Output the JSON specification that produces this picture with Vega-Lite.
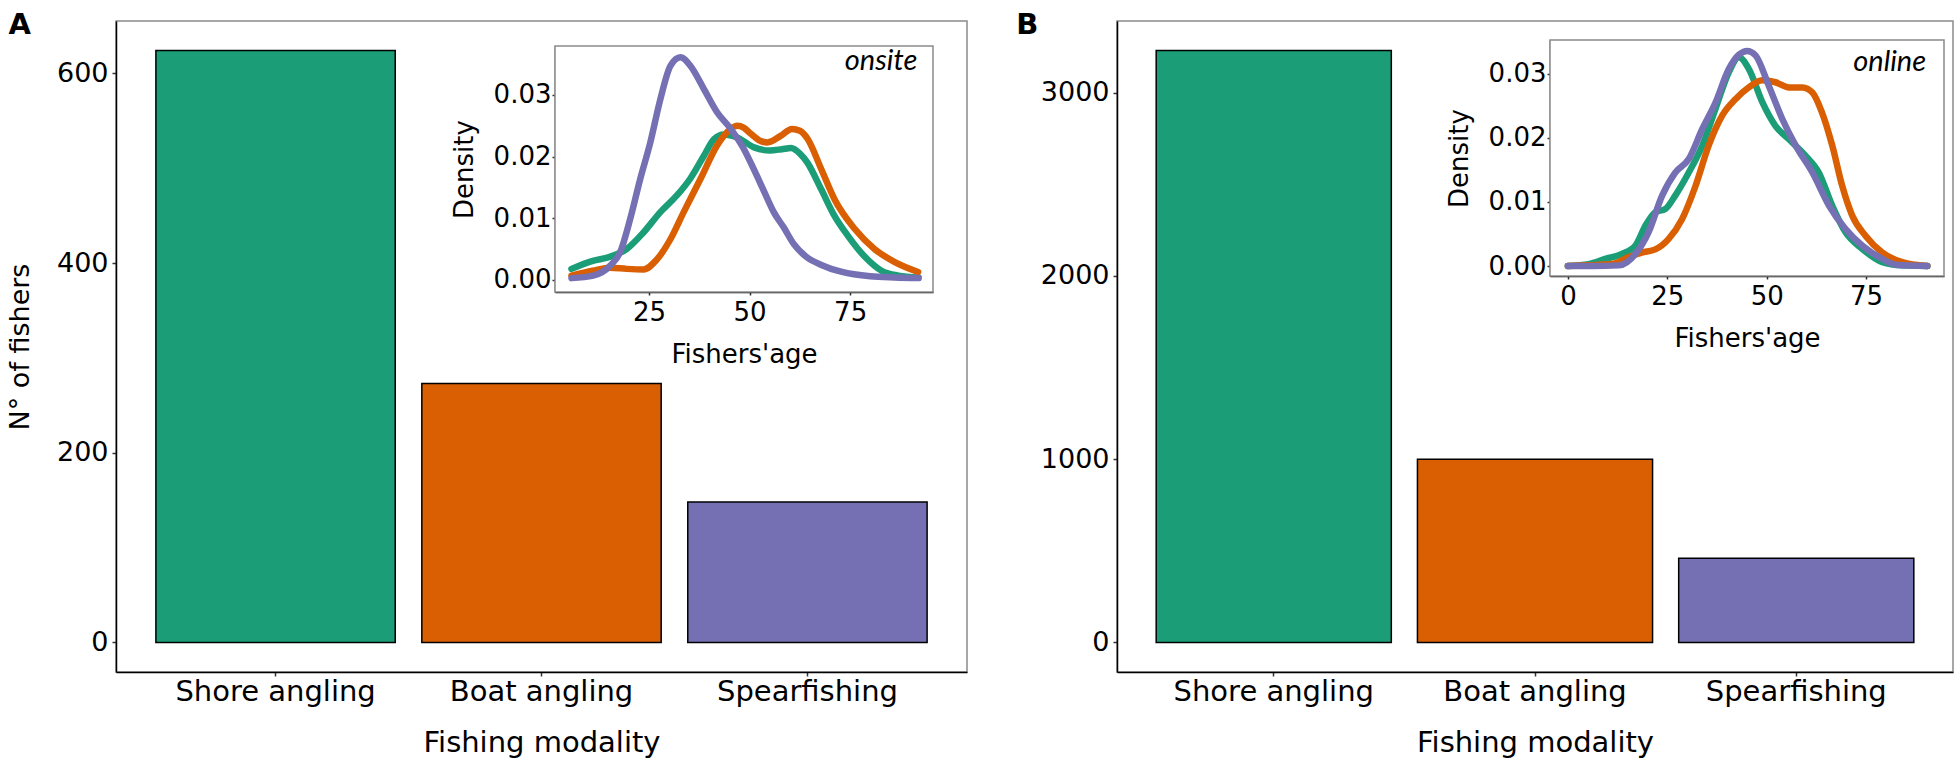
{
  "$schema": "https://vega.github.io/schema/vega-lite/v6.json",
  "background": "white",
  "padding": {"left": 5, "top": 10, "right": 0, "bottom": 0},
  "spacing": 47,
  "config": {
    "font": "DejaVu Sans",
    "view": {"stroke": "#8a8a8a", "strokeWidth": 1.5},
    "axis": {
      "grid": false,
      "domainColor": "black",
      "domainWidth": 1.5,
      "tickColor": "#333333",
      "tickWidth": 1.5,
      "labelColor": "black",
      "titleColor": "black",
      "titleFontWeight": "normal",
      "labelFont": "DejaVu Sans",
      "titleFont": "DejaVu Sans",
      "labelLimit": 0,
      "zindex": 1
    },
    "title": {"font": "DejaVu Sans", "fontWeight": "bold", "fontSize": 29, "color": "black", "anchor": "start", "frame": "bounds", "baseline": "alphabetic", "offset": 0}
  },
  "datasets": {
    "bars": [
      {"panel": "A", "modality": "Shore angling", "n": 624},
      {"panel": "A", "modality": "Boat angling", "n": 273},
      {"panel": "A", "modality": "Spearfishing", "n": 148},
      {"panel": "B", "modality": "Shore angling", "n": 3230},
      {"panel": "B", "modality": "Boat angling", "n": 1000},
      {"panel": "B", "modality": "Spearfishing", "n": 460}
    ],
    "frames": [
      {"panel": "A", "age": 1.6, "age2": 95.6, "density": -0.00195, "density2": 0.03794},
      {"panel": "B", "age": -4.5, "age2": 94.6, "density": -0.00156, "density2": 0.0353}
    ],
    "tags": [
      {"panel": "A", "age": 91.7, "density": 0.0341, "label": "onsite"},
      {"panel": "B", "age": 90.1, "density": 0.0304, "label": "online"}
    ],
    "dens": [
      {"panel": "A", "modality": "Shore angling", "age": 5.7, "density": 0.0018},
      {"panel": "A", "modality": "Shore angling", "age": 11, "density": 0.0031},
      {"panel": "A", "modality": "Shore angling", "age": 15, "density": 0.0037},
      {"panel": "A", "modality": "Shore angling", "age": 19.4, "density": 0.005},
      {"panel": "A", "modality": "Shore angling", "age": 23.6, "density": 0.0077},
      {"panel": "A", "modality": "Shore angling", "age": 27.8, "density": 0.011},
      {"panel": "A", "modality": "Shore angling", "age": 31.9, "density": 0.0137},
      {"panel": "A", "modality": "Shore angling", "age": 35.3, "density": 0.0165},
      {"panel": "A", "modality": "Shore angling", "age": 38.6, "density": 0.0201},
      {"panel": "A", "modality": "Shore angling", "age": 41.1, "density": 0.0228},
      {"panel": "A", "modality": "Shore angling", "age": 43.6, "density": 0.0236},
      {"panel": "A", "modality": "Shore angling", "age": 46.9, "density": 0.0231},
      {"panel": "A", "modality": "Shore angling", "age": 51.1, "density": 0.0215},
      {"panel": "A", "modality": "Shore angling", "age": 55, "density": 0.021},
      {"panel": "A", "modality": "Shore angling", "age": 58, "density": 0.0212},
      {"panel": "A", "modality": "Shore angling", "age": 60.3, "density": 0.0214},
      {"panel": "A", "modality": "Shore angling", "age": 62.5, "density": 0.0205},
      {"panel": "A", "modality": "Shore angling", "age": 64.4, "density": 0.019},
      {"panel": "A", "modality": "Shore angling", "age": 67.8, "density": 0.0147},
      {"panel": "A", "modality": "Shore angling", "age": 71.1, "density": 0.0104},
      {"panel": "A", "modality": "Shore angling", "age": 74.4, "density": 0.0072},
      {"panel": "A", "modality": "Shore angling", "age": 78.6, "density": 0.0038},
      {"panel": "A", "modality": "Shore angling", "age": 82.8, "density": 0.0015},
      {"panel": "A", "modality": "Shore angling", "age": 87, "density": 0.0007},
      {"panel": "A", "modality": "Shore angling", "age": 92, "density": 0.0004},
      {"panel": "A", "modality": "Boat angling", "age": 5.7, "density": 0.0007},
      {"panel": "A", "modality": "Boat angling", "age": 11, "density": 0.0015},
      {"panel": "A", "modality": "Boat angling", "age": 15.3, "density": 0.002},
      {"panel": "A", "modality": "Boat angling", "age": 19.4, "density": 0.0018},
      {"panel": "A", "modality": "Boat angling", "age": 23.6, "density": 0.0017},
      {"panel": "A", "modality": "Boat angling", "age": 26.9, "density": 0.0033},
      {"panel": "A", "modality": "Boat angling", "age": 30.3, "density": 0.0066},
      {"panel": "A", "modality": "Boat angling", "age": 33.6, "density": 0.011},
      {"panel": "A", "modality": "Boat angling", "age": 37.8, "density": 0.0164},
      {"panel": "A", "modality": "Boat angling", "age": 41.9, "density": 0.0218},
      {"panel": "A", "modality": "Boat angling", "age": 45.3, "density": 0.0245},
      {"panel": "A", "modality": "Boat angling", "age": 46.9, "density": 0.025},
      {"panel": "A", "modality": "Boat angling", "age": 48.5, "density": 0.0247},
      {"panel": "A", "modality": "Boat angling", "age": 50.3, "density": 0.0237},
      {"panel": "A", "modality": "Boat angling", "age": 52.5, "density": 0.0226},
      {"panel": "A", "modality": "Boat angling", "age": 54.4, "density": 0.0223},
      {"panel": "A", "modality": "Boat angling", "age": 57.8, "density": 0.0234},
      {"panel": "A", "modality": "Boat angling", "age": 60.5, "density": 0.0245},
      {"panel": "A", "modality": "Boat angling", "age": 62.5, "density": 0.0242},
      {"panel": "A", "modality": "Boat angling", "age": 64.4, "density": 0.0229},
      {"panel": "A", "modality": "Boat angling", "age": 67.8, "density": 0.018},
      {"panel": "A", "modality": "Boat angling", "age": 71.1, "density": 0.0131},
      {"panel": "A", "modality": "Boat angling", "age": 76.1, "density": 0.0083},
      {"panel": "A", "modality": "Boat angling", "age": 81.1, "density": 0.005},
      {"panel": "A", "modality": "Boat angling", "age": 86.1, "density": 0.0029},
      {"panel": "A", "modality": "Boat angling", "age": 91.9, "density": 0.0013},
      {"panel": "A", "modality": "Spearfishing", "age": 5.7, "density": 0.0003},
      {"panel": "A", "modality": "Spearfishing", "age": 11.1, "density": 0.0007},
      {"panel": "A", "modality": "Spearfishing", "age": 15.3, "density": 0.0023},
      {"panel": "A", "modality": "Spearfishing", "age": 17.8, "density": 0.0045},
      {"panel": "A", "modality": "Spearfishing", "age": 20.3, "density": 0.0099},
      {"panel": "A", "modality": "Spearfishing", "age": 22.8, "density": 0.0164},
      {"panel": "A", "modality": "Spearfishing", "age": 25.3, "density": 0.0223},
      {"panel": "A", "modality": "Spearfishing", "age": 27.8, "density": 0.0293},
      {"panel": "A", "modality": "Spearfishing", "age": 30.3, "density": 0.0347},
      {"panel": "A", "modality": "Spearfishing", "age": 32.8, "density": 0.0361},
      {"panel": "A", "modality": "Spearfishing", "age": 35.3, "density": 0.0347},
      {"panel": "A", "modality": "Spearfishing", "age": 38.6, "density": 0.031},
      {"panel": "A", "modality": "Spearfishing", "age": 41.9, "density": 0.0272},
      {"panel": "A", "modality": "Spearfishing", "age": 45.3, "density": 0.0245},
      {"panel": "A", "modality": "Spearfishing", "age": 48.6, "density": 0.0212},
      {"panel": "A", "modality": "Spearfishing", "age": 51, "density": 0.018},
      {"panel": "A", "modality": "Spearfishing", "age": 53.5, "density": 0.0145},
      {"panel": "A", "modality": "Spearfishing", "age": 56, "density": 0.011},
      {"panel": "A", "modality": "Spearfishing", "age": 58.5, "density": 0.0085},
      {"panel": "A", "modality": "Spearfishing", "age": 61, "density": 0.0058},
      {"panel": "A", "modality": "Spearfishing", "age": 64, "density": 0.0038},
      {"panel": "A", "modality": "Spearfishing", "age": 68, "density": 0.0024},
      {"panel": "A", "modality": "Spearfishing", "age": 73, "density": 0.0013},
      {"panel": "A", "modality": "Spearfishing", "age": 80, "density": 0.0006},
      {"panel": "A", "modality": "Spearfishing", "age": 86, "density": 0.0004},
      {"panel": "A", "modality": "Spearfishing", "age": 92, "density": 0.0003},
      {"panel": "B", "modality": "Shore angling", "age": 0, "density": 0},
      {"panel": "B", "modality": "Shore angling", "age": 5.2, "density": 0.0003},
      {"panel": "B", "modality": "Shore angling", "age": 9.4, "density": 0.0011},
      {"panel": "B", "modality": "Shore angling", "age": 13.6, "density": 0.0019},
      {"panel": "B", "modality": "Shore angling", "age": 17, "density": 0.0032},
      {"panel": "B", "modality": "Shore angling", "age": 19.5, "density": 0.0063},
      {"panel": "B", "modality": "Shore angling", "age": 22, "density": 0.0084},
      {"panel": "B", "modality": "Shore angling", "age": 24.5, "density": 0.0089},
      {"panel": "B", "modality": "Shore angling", "age": 27, "density": 0.011},
      {"panel": "B", "modality": "Shore angling", "age": 30.4, "density": 0.0146},
      {"panel": "B", "modality": "Shore angling", "age": 33.8, "density": 0.0188},
      {"panel": "B", "modality": "Shore angling", "age": 37.1, "density": 0.0245},
      {"panel": "B", "modality": "Shore angling", "age": 40.5, "density": 0.0303},
      {"panel": "B", "modality": "Shore angling", "age": 43, "density": 0.0326},
      {"panel": "B", "modality": "Shore angling", "age": 45.5, "density": 0.0308},
      {"panel": "B", "modality": "Shore angling", "age": 48.9, "density": 0.0256},
      {"panel": "B", "modality": "Shore angling", "age": 52.2, "density": 0.0219},
      {"panel": "B", "modality": "Shore angling", "age": 55.6, "density": 0.0198},
      {"panel": "B", "modality": "Shore angling", "age": 59.8, "density": 0.0172},
      {"panel": "B", "modality": "Shore angling", "age": 63.1, "density": 0.0146},
      {"panel": "B", "modality": "Shore angling", "age": 66.5, "density": 0.0094},
      {"panel": "B", "modality": "Shore angling", "age": 69.8, "density": 0.0053},
      {"panel": "B", "modality": "Shore angling", "age": 74, "density": 0.0027},
      {"panel": "B", "modality": "Shore angling", "age": 79.1, "density": 0.0006},
      {"panel": "B", "modality": "Shore angling", "age": 84, "density": 0.0001},
      {"panel": "B", "modality": "Shore angling", "age": 90.4, "density": 0},
      {"panel": "B", "modality": "Boat angling", "age": 0, "density": 0},
      {"panel": "B", "modality": "Boat angling", "age": 5, "density": 0.0001},
      {"panel": "B", "modality": "Boat angling", "age": 11.1, "density": 0.0003},
      {"panel": "B", "modality": "Boat angling", "age": 15.3, "density": 0.0014},
      {"panel": "B", "modality": "Boat angling", "age": 18.6, "density": 0.0021},
      {"panel": "B", "modality": "Boat angling", "age": 22, "density": 0.0026},
      {"panel": "B", "modality": "Boat angling", "age": 25.3, "density": 0.0042},
      {"panel": "B", "modality": "Boat angling", "age": 28.7, "density": 0.0073},
      {"panel": "B", "modality": "Boat angling", "age": 32.1, "density": 0.0125},
      {"panel": "B", "modality": "Boat angling", "age": 35.4, "density": 0.0188},
      {"panel": "B", "modality": "Boat angling", "age": 38.8, "density": 0.0235},
      {"panel": "B", "modality": "Boat angling", "age": 42.2, "density": 0.0261},
      {"panel": "B", "modality": "Boat angling", "age": 45.5, "density": 0.0279},
      {"panel": "B", "modality": "Boat angling", "age": 48.9, "density": 0.029},
      {"panel": "B", "modality": "Boat angling", "age": 52.2, "density": 0.0287},
      {"panel": "B", "modality": "Boat angling", "age": 55.6, "density": 0.0279},
      {"panel": "B", "modality": "Boat angling", "age": 59, "density": 0.0279},
      {"panel": "B", "modality": "Boat angling", "age": 61.5, "density": 0.0271},
      {"panel": "B", "modality": "Boat angling", "age": 63.9, "density": 0.024},
      {"panel": "B", "modality": "Boat angling", "age": 66.5, "density": 0.0188},
      {"panel": "B", "modality": "Boat angling", "age": 69, "density": 0.0125},
      {"panel": "B", "modality": "Boat angling", "age": 71.5, "density": 0.0079},
      {"panel": "B", "modality": "Boat angling", "age": 74.9, "density": 0.0047},
      {"panel": "B", "modality": "Boat angling", "age": 79.1, "density": 0.0021},
      {"panel": "B", "modality": "Boat angling", "age": 84.1, "density": 0.0006},
      {"panel": "B", "modality": "Boat angling", "age": 90.4, "density": 0},
      {"panel": "B", "modality": "Spearfishing", "age": 0, "density": 0},
      {"panel": "B", "modality": "Spearfishing", "age": 6, "density": 0},
      {"panel": "B", "modality": "Spearfishing", "age": 12.8, "density": 0.0001},
      {"panel": "B", "modality": "Spearfishing", "age": 17, "density": 0.0019},
      {"panel": "B", "modality": "Spearfishing", "age": 20.3, "density": 0.0053},
      {"panel": "B", "modality": "Spearfishing", "age": 23.7, "density": 0.011},
      {"panel": "B", "modality": "Spearfishing", "age": 27, "density": 0.0146},
      {"panel": "B", "modality": "Spearfishing", "age": 30.4, "density": 0.0167},
      {"panel": "B", "modality": "Spearfishing", "age": 33.8, "density": 0.0214},
      {"panel": "B", "modality": "Spearfishing", "age": 37.1, "density": 0.0255},
      {"panel": "B", "modality": "Spearfishing", "age": 40.5, "density": 0.0308},
      {"panel": "B", "modality": "Spearfishing", "age": 43, "density": 0.033},
      {"panel": "B", "modality": "Spearfishing", "age": 45.1, "density": 0.0336},
      {"panel": "B", "modality": "Spearfishing", "age": 47.2, "density": 0.0329},
      {"panel": "B", "modality": "Spearfishing", "age": 50.5, "density": 0.0282},
      {"panel": "B", "modality": "Spearfishing", "age": 53.9, "density": 0.023},
      {"panel": "B", "modality": "Spearfishing", "age": 57.3, "density": 0.0188},
      {"panel": "B", "modality": "Spearfishing", "age": 61.5, "density": 0.0146},
      {"panel": "B", "modality": "Spearfishing", "age": 65.7, "density": 0.0094},
      {"panel": "B", "modality": "Spearfishing", "age": 69.8, "density": 0.0058},
      {"panel": "B", "modality": "Spearfishing", "age": 74, "density": 0.0032},
      {"panel": "B", "modality": "Spearfishing", "age": 79.1, "density": 0.0011},
      {"panel": "B", "modality": "Spearfishing", "age": 82.5, "density": 0.0002},
      {"panel": "B", "modality": "Spearfishing", "age": 90.4, "density": 0}
    ]
  },
  "hconcat": [
    {
      "title": {"text": "A", "dx": 2, "dy": 23},
      "width": 851,
      "height": 651,
      "layer": [
        {
          "data": {"name": "bars"},
          "transform": [{"filter": "datum.panel === 'A'"}],
          "mark": {"type": "bar", "stroke": "black", "strokeWidth": 1.5},
          "encoding": {
            "x": {
              "field": "modality", "type": "nominal",
              "sort": ["Shore angling", "Boat angling", "Spearfishing"],
              "scale": {"paddingInner": 0.1, "paddingOuter": 0.15},
              "axis": {"title": "Fishing modality", "labelAngle": 0, "labelFontSize": 29, "titleFontSize": 29, "tickSize": 4, "labelPadding": 1, "titlePadding": 22}
            },
            "y": {
              "field": "n", "type": "quantitative",
              "scale": {"domain": [-31.2, 655.2], "nice": false, "zero": false},
              "axis": {"title": "N° of fishers", "values": [0, 200, 400, 600], "format": "d", "labelFontSize": 27, "titleFontSize": 27, "tickSize": 4, "labelPadding": 4, "titlePadding": 22}
            },
            "y2": {"datum": 0},
            "color": {
              "field": "modality", "type": "nominal",
              "scale": {"domain": ["Shore angling", "Boat angling", "Spearfishing"], "range": ["#1b9e77", "#d95f02", "#7570b3"]},
              "legend": null
            }
          }
        },
        {
          "encoding": {
            "x": {
              "field": "age", "type": "quantitative",
              "scale": {"domain": [1.6, 95.6], "range": [439, 817], "nice": false, "zero": false},
              "axis": {"orient": "bottom", "offset": -380, "title": "Fishers'age", "values": [25, 50, 75], "labelFontSize": 26, "titleFontSize": 26, "tickSize": 3, "labelPadding": 4, "titlePadding": 16}
            },
            "y": {
              "field": "density", "type": "quantitative",
              "scale": {"domain": [-0.00195, 0.03794], "range": [271, 25], "nice": false, "zero": false},
              "axis": {"orient": "left", "offset": -439, "title": "Density", "values": [0, 0.01, 0.02, 0.03], "format": ".2f", "labelFontSize": 26, "titleFontSize": 26, "tickSize": 3, "labelPadding": 1, "titlePadding": 16}
            }
          },
          "layer": [
            {
              "data": {"name": "frames"},
              "transform": [{"filter": "datum.panel === 'A'"}],
              "mark": {"type": "rect", "fill": "white", "stroke": "#8a8a8a", "strokeWidth": 1.5},
              "encoding": {"x2": {"field": "age2"}, "y2": {"field": "density2"}}
            },
            {
              "data": {"name": "dens"},
              "transform": [{"filter": "datum.panel === 'A'"}],
              "mark": {"type": "line", "strokeWidth": 6.5, "interpolate": "monotone", "strokeCap": "round", "strokeJoin": "round"},
              "encoding": {"color": {"field": "modality", "type": "nominal", "legend": null}}
            },
            {
              "data": {"name": "tags"},
              "transform": [{"filter": "datum.panel === 'A'"}],
              "mark": {"type": "text", "font": "Lato", "fontStyle": "italic", "fontSize": 29, "align": "right", "baseline": "alphabetic", "color": "black"},
              "encoding": {"text": {"field": "label"}}
            }
          ]
        }
      ],
      "resolve": {"scale": {"x": "independent", "y": "independent"}}
    },
    {
      "title": {"text": "B", "dx": -24, "dy": 23},
      "width": 836,
      "height": 651,
      "layer": [
        {
          "data": {"name": "bars"},
          "transform": [{"filter": "datum.panel === 'B'"}],
          "mark": {"type": "bar", "stroke": "black", "strokeWidth": 1.5},
          "encoding": {
            "x": {
              "field": "modality", "type": "nominal",
              "sort": ["Shore angling", "Boat angling", "Spearfishing"],
              "scale": {"paddingInner": 0.1, "paddingOuter": 0.15},
              "axis": {"title": "Fishing modality", "labelAngle": 0, "labelFontSize": 29, "titleFontSize": 29, "tickSize": 4, "labelPadding": 1, "titlePadding": 22}
            },
            "y": {
              "field": "n", "type": "quantitative",
              "scale": {"domain": [-161.5, 3391.5], "nice": false, "zero": false},
              "axis": {"title": null, "values": [0, 1000, 2000, 3000], "format": "d", "labelFontSize": 27, "tickSize": 4, "labelPadding": 4}
            },
            "y2": {"datum": 0},
            "color": {
              "field": "modality", "type": "nominal",
              "scale": {"domain": ["Shore angling", "Boat angling", "Spearfishing"], "range": ["#1b9e77", "#d95f02", "#7570b3"]},
              "legend": null
            }
          }
        },
        {
          "encoding": {
            "x": {
              "field": "age", "type": "quantitative",
              "scale": {"domain": [-4.5, 94.6], "range": [433, 827], "nice": false, "zero": false},
              "axis": {"orient": "bottom", "offset": -396, "title": "Fishers'age", "values": [0, 25, 50, 75], "labelFontSize": 26, "titleFontSize": 26, "tickSize": 3, "labelPadding": 4, "titlePadding": 16}
            },
            "y": {
              "field": "density", "type": "quantitative",
              "scale": {"domain": [-0.00156, 0.0353], "range": [255, 19], "nice": false, "zero": false},
              "axis": {"orient": "left", "offset": -433, "title": "Density", "values": [0, 0.01, 0.02, 0.03], "format": ".2f", "labelFontSize": 26, "titleFontSize": 26, "tickSize": 3, "labelPadding": 1, "titlePadding": 16}
            }
          },
          "layer": [
            {
              "data": {"name": "frames"},
              "transform": [{"filter": "datum.panel === 'B'"}],
              "mark": {"type": "rect", "fill": "white", "stroke": "#8a8a8a", "strokeWidth": 1.5},
              "encoding": {"x2": {"field": "age2"}, "y2": {"field": "density2"}}
            },
            {
              "data": {"name": "dens"},
              "transform": [{"filter": "datum.panel === 'B'"}],
              "mark": {"type": "line", "strokeWidth": 6.5, "interpolate": "monotone", "strokeCap": "round", "strokeJoin": "round"},
              "encoding": {"color": {"field": "modality", "type": "nominal", "legend": null}}
            },
            {
              "data": {"name": "tags"},
              "transform": [{"filter": "datum.panel === 'B'"}],
              "mark": {"type": "text", "font": "Lato", "fontStyle": "italic", "fontSize": 29, "align": "right", "baseline": "alphabetic", "color": "black"},
              "encoding": {"text": {"field": "label"}}
            }
          ]
        }
      ],
      "resolve": {"scale": {"x": "independent", "y": "independent"}}
    }
  ]
}
